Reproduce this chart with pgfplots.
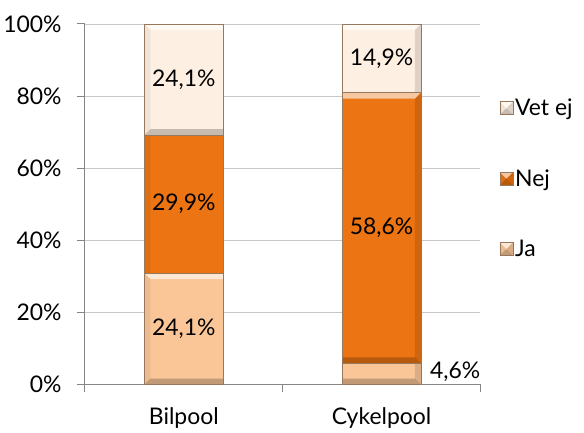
\documentclass[border=0pt]{standalone}
\usepackage{pgfplots}
\pgfplotsset{compat=1.18}
\usepackage{pgfplotstable}
\usepackage{fontspec}
\setmainfont{Lato}

\definecolor{jaC}{RGB}{250,198,152}
\definecolor{nejC}{RGB}{236,116,18}
\definecolor{vetC}{RGB}{253,240,227}
\definecolor{axisC}{RGB}{134,134,134}
\definecolor{gridC}{RGB}{200,200,200}
\definecolor{edgeC}{RGB}{150,120,95}

\newcommand\chartfont{\fontsize{23bp}{27bp}\selectfont}

% share of respondents per answer (percent); ldx/ldy move a value label
\pgfplotstableread{
x  ja   nej  vetej  ldx  ldy
0  24.1 29.9 24.1   0    0
1  4.6  58.6 14.9   74   2
}\svar

% one bevel facet, drawn with the basic layer: #1 colour, #2 opacity, #3..#6 corners
\newcommand\facet[6]{%
  \pgfsetfillcolor{#1}\pgfsetfillopacity{#2}%
  \pgfpathmoveto{#3}\pgfpathlineto{#4}\pgfpathlineto{#5}\pgfpathlineto{#6}%
  \pgfpathclose\pgfusepath{fill}}

% bevelled bar face: light top edge, dark bottom edge, shaded sides
\tikzset{bevel/.style={
  draw=edgeC, line width=0.6bp,
  path picture={%
    \pgfpointanchor{path picture bounding box}{south west}\pgfgetlastxy{\bx}{\by}%
    \pgfpointanchor{path picture bounding box}{north east}\pgfgetlastxy{\ex}{\ey}%
    \begin{pgfscope}
    \facet{white}{0.6}{\pgfqpoint{\bx}{\ey}}{\pgfqpoint{\ex}{\ey}}{\pgfpoint{\ex-6bp}{\ey-6bp}}{\pgfpoint{\bx+6bp}{\ey-6bp}}%
    \facet{black}{0.22}{\pgfqpoint{\bx}{\by}}{\pgfqpoint{\ex}{\by}}{\pgfpoint{\ex-6bp}{\by+6bp}}{\pgfpoint{\bx+6bp}{\by+6bp}}%
    \facet{black}{0.05}{\pgfqpoint{\bx}{\ey}}{\pgfpoint{\bx+6bp}{\ey-6bp}}{\pgfpoint{\bx+6bp}{\by+6bp}}{\pgfqpoint{\bx}{\by}}%
    \facet{black}{0.12}{\pgfqpoint{\ex}{\ey}}{\pgfpoint{\ex-6bp}{\ey-6bp}}{\pgfpoint{\ex-6bp}{\by+6bp}}{\pgfqpoint{\ex}{\by}}%
    \end{pgfscope}
  }}}

\begin{document}
\begin{tikzpicture}
\begin{axis}[
  ybar stacked,
  scale only axis,
  x=198.5bp, y=4.635bp,
  bar width=79bp,
  xmin=-0.5, xmax=1.5, ymin=0, ymax=78.1,
  axis lines*=left,
  axis line style={draw=axisC, line width=1bp},
  tick align=outside,
  major tick length=8bp,
  tick style={draw=axisC, line width=1bp},
  xtick={-0.5,0.5,1.5}, xticklabels={},
  extra x ticks={0,1},
  extra x tick labels={Bilpool,Cykelpool},
  extra x tick style={major tick length=0pt, grid=none},
  ytick={0,15.62,31.24,46.86,62.48,78.1},
  yticklabels={0\%,20\%,40\%,60\%,80\%,100\%},
  ymajorgrids,
  grid style={draw=gridC, line width=0.8bp},
  tick label style={font=\chartfont, text=black},
  xticklabel style={yshift=-20bp},
  yticklabel style={xshift=-12bp},
  clip=false,
  nodes near coords={\pgfmathprintnumber[fixed,fixed zerofill,precision=1,use comma,assume math mode=true]{\val}\%},
  nodes near coords align={center},
  every node near coord/.append style={font=\chartfont, text=black, anchor=center,
    xshift=\ldx bp, yshift=\ldy bp},
  legend style={draw=none, fill=none, at={(1.048,0.571)}, anchor=west,
    inner sep=0pt, row sep=52.5bp, font=\chartfont,
    nodes={inner xsep=2bp, inner ysep=0pt}},
  legend cell align=left,
  reverse legend,
  legend image code/.code={\draw[#1] (0bp,-6.5bp) rectangle (13bp,6.5bp);},
]
\addplot[fill=jaC, bevel,
  visualization depends on={\thisrow{ja} \as \val},
  visualization depends on={\thisrow{ldx} \as \ldx},
  visualization depends on={\thisrow{ldy} \as \ldy}]
  table[x=x, y=ja] {\svar};
\addplot[fill=nejC, bevel,
  visualization depends on={\thisrow{nej} \as \val},
  visualization depends on={0 \as \ldx},
  visualization depends on={0 \as \ldy}]
  table[x=x, y=nej] {\svar};
\addplot[fill=vetC, bevel,
  visualization depends on={\thisrow{vetej} \as \val},
  visualization depends on={0 \as \ldx},
  visualization depends on={0 \as \ldy}]
  table[x=x, y=vetej] {\svar};
\legend{Ja,Nej,Vet ej}
\end{axis}
\path (current axis.south west) ++(-83bp,-47bp) rectangle ++(584bp,433bp);
\end{tikzpicture}
\end{document}
